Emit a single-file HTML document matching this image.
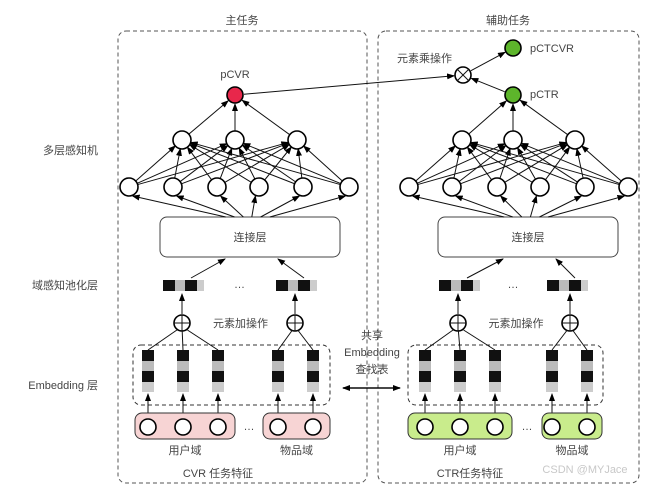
<!DOCTYPE html>
<html><head><meta charset="utf-8"><style>
html,body{margin:0;padding:0;background:#fff;}
svg{display:block;font-family:"Liberation Sans","Noto Sans CJK SC",sans-serif;}
text{fill:#444;font-size:11px;}
</style></head><body>
<svg id="s" width="655" height="491" viewBox="0 0 655 491" xmlns="http://www.w3.org/2000/svg">
<defs><marker id="a" markerWidth="8" markerHeight="8" refX="7" refY="4" orient="auto" markerUnits="userSpaceOnUse"><path d="M0,1 L8,4 L0,7 z" fill="#000"/></marker></defs>
<rect x="118" y="31" width="249" height="452" rx="8" fill="none" stroke="#555" stroke-dasharray="4,3"/>
<rect x="378" y="31" width="261" height="452" rx="8" fill="none" stroke="#555" stroke-dasharray="4,3"/>
<text x="242" y="24" text-anchor="middle">主任务</text>
<text x="508" y="24" text-anchor="middle">辅助任务</text>
<text x="98" y="154" text-anchor="end">多层感知机</text>
<text x="98" y="289" text-anchor="end">域感知池化层</text>
<text x="98" y="389" text-anchor="end">Embedding 层</text>
<text x="372" y="339" text-anchor="middle">共享</text>
<text x="372" y="356" text-anchor="middle">Embedding</text>
<text x="372" y="373" text-anchor="middle">查找表</text>
<line x1="343" y1="388" x2="400" y2="388" stroke="#000" stroke-width="1.3" marker-end="url(#a)"/>
<line x1="400" y1="388" x2="343" y2="388" stroke="#000" stroke-width="1.3" marker-end="url(#a)"/>
<text x="235" y="78" text-anchor="middle" font-size="12">pCVR</text>
<text x="530" y="52" font-size="12">pCTCVR</text>
<text x="530" y="98" font-size="12">pCTR</text>
<text x="452" y="62" text-anchor="end">元素乘操作</text>
<g id="g"></g>
<text x="218" y="477" text-anchor="middle">CVR 任务特征</text>
<text x="470" y="477" text-anchor="middle">CTR任务特征</text>
<text x="585" y="473" text-anchor="middle" font-size="16" fill="#bbb" style="fill:#c8c8c8">CSDN @MYJace</text>
</svg>
<script>
var g=document.getElementById('g'),h='';
function L(x1,y1,x2,y2,ar){h+='<line x1="'+x1+'" y1="'+y1+'" x2="'+x2+'" y2="'+y2+'" stroke="#111" stroke-width="1"'+(ar?' marker-end="url(#a)"':'')+'/>';}
function C(x,y,r,f){h+='<circle cx="'+x+'" cy="'+y+'" r="'+r+'" fill="'+f+'" stroke="#000" stroke-width="1.6"/>';}
function A(x1,y1,x2,y2,r){var dx=x2-x1,dy=y2-y1,d=Math.sqrt(dx*dx+dy*dy);L(x1+dx*r/d,y1+dy*r/d,x2-dx*r/d,y2-dy*r/d,1);}
function side(o){
 var h1=o.h1,h2=o.h2,top=o.top;
 // concat
 h+='<rect x="'+o.cx1+'" y="217" width="'+(o.cx2-o.cx1)+'" height="40" rx="7" fill="#fff" stroke="#444"/>';
 h+='<text x="'+((o.cx1+o.cx2)/2)+'" y="241" text-anchor="middle">连接层</text>';
 var mid=(o.cx1+o.cx2)/2;
 h1.forEach(function(x){L(mid+(x-mid)*0.2,217,x+(x<mid?6:-6)*0.6,196,1);});
 h1.forEach(function(x){h2.forEach(function(y){A(x,187,y,140,9);});});
 h2.forEach(function(y){A(y,140,top[0],95,9);});
 h1.forEach(function(x){C(x,187,9,'#fff');});
 h2.forEach(function(x){C(x,140,9,'#fff');});
 C(top[0],95,8,o.col);
 // pool vectors
 o.pool.forEach(function(p){
  h+='<rect x="'+p+'" y="280" width="12" height="11" fill="#111"/><rect x="'+(p+12)+'" y="280" width="10" height="11" fill="#bbb"/><rect x="'+(p+22)+'" y="280" width="12" height="11" fill="#111"/><rect x="'+(p+34)+'" y="280" width="7" height="11" fill="#ccc"/>';
 });
 h+='<text x="'+((o.pool[0]+o.pool[1])/2+20)+'" y="288" text-anchor="middle">…</text>';
 L(o.pool[0]+28,278,mid-25,259,1);L(o.pool[1]+28,278,mid+28,259,1);
 o.plus.forEach(function(x,i){L(x,314,x,294,1);C(x,323,8,'#fff');L(x-8,323,x+8,323);L(x,315,x,331);});
 h+='<text x="'+((o.plus[0]+o.plus[1])/2+2)+'" y="327" text-anchor="middle">元素加操作</text>';
 h+='<rect x="'+o.e1+'" y="345" width="'+(o.e2-o.e1)+'" height="60" rx="8" fill="none" stroke="#333" stroke-dasharray="4,3"/>';
 o.cols.forEach(function(x,i){
  var p=i<3?o.plus[0]:o.plus[1];
  L(x,350,p+(x-p)*0.15,330);
  h+='<rect x="'+(x-6)+'" y="350" width="12" height="11" fill="#111"/><rect x="'+(x-6)+'" y="361" width="12" height="10" fill="#bbb"/><rect x="'+(x-6)+'" y="371" width="12" height="11" fill="#111"/><rect x="'+(x-6)+'" y="382" width="12" height="10" fill="#ccc"/>';
  L(x,418,x,394,1);
 });
 h+='<rect x="'+o.b[0]+'" y="413" width="'+(o.b[1]-o.b[0])+'" height="26" rx="7" fill="'+o.bc+'" stroke="#333"/>';
 h+='<rect x="'+o.b[2]+'" y="413" width="'+(o.b[3]-o.b[2])+'" height="26" rx="7" fill="'+o.bc+'" stroke="#333"/>';
 o.cols.forEach(function(x){C(x,427,8,'#fff');});
 h+='<text x="'+((o.b[1]+o.b[2])/2)+'" y="430" text-anchor="middle">…</text>';
 h+='<text x="'+((o.b[0]+o.b[1])/2)+'" y="454" text-anchor="middle">用户域</text>';
 h+='<text x="'+((o.b[2]+o.b[3])/2)+'" y="454" text-anchor="middle">物品域</text>';
}
side({h1:[129,173,217,259,303,349],h2:[182,235,297],top:[235],col:'#e8274b',cx1:160,cx2:340,pool:[163,276],plus:[182,295],e1:133,e2:330,cols:[148,183,218,278,313],b:[135,235,263,330],bc:'#f7d4d4'});
side({h1:[409,452,497,540,585,628],h2:[462,513,575],top:[513],col:'#5db52b',cx1:438,cx2:618,pool:[439,547],plus:[458,570],e1:408,e2:603,cols:[425,460,495,552,587],b:[408,512,542,602],bc:'#c9ec8c'});
// top: pCVR -> ⊗, pCTR -> ⊗, ⊗ -> pCTCVR
A(235,95,463,75,9);A(513,95,463,75,9);A(463,75,513,48,9);
C(513,48,8,'#5db52b');
C(463,75,8,'#fff');L(457,69,469,81);L(469,69,457,81);
g.innerHTML=h;
</script>
</body></html>
